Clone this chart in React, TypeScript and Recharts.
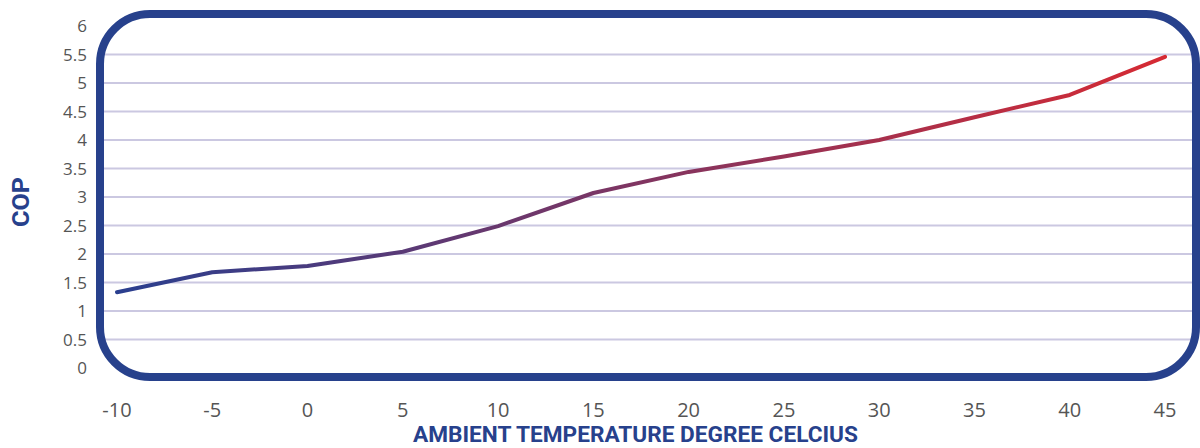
import { LineChart, Line, XAxis, YAxis, CartesianGrid } from 'recharts';

const temperatures = ['-10', '-5', '0', '5', '10', '15', '20', '25', '30', '35', '40', '45'];
const copValues = [1.33, 1.68, 1.79, 2.04, 2.49, 3.07, 3.44, 3.71, 4.0, 4.4, 4.79, 5.46];
const yTicks = [0, 0.5, 1, 1.5, 2, 2.5, 3, 3.5, 4, 4.5, 5, 5.5, 6];
const gridValues = [0.5, 1, 1.5, 2, 2.5, 3, 3.5, 4, 4.5, 5, 5.5];

const data = temperatures.map((t, i) => ({ temp: t, cop: copValues[i] }));

const navy = '#27418c';

export default function App() {
  return (
    <div style={{ position: 'relative', width: 1200, height: 448, background: '#fff' }}>
      <style>{`body{margin:0}`}</style>
      <LineChart
        width={1200}
        height={448}
        data={data}
        margin={{ top: 14, right: 4, left: 0, bottom: 31 }}
      >
        <defs>
          <linearGradient id="copGradient" x1="0" y1="0" x2="1" y2="0">
            <stop offset="0%" stopColor="#2a3f8f" />
            <stop offset="100%" stopColor="#d62a33" />
          </linearGradient>
        </defs>

        {/* Grid, only the inner lines */}
        <CartesianGrid
          vertical={false}
          horizontalValues={gridValues}
          stroke="#cbc8e1"
          strokeWidth={2}
        />

        <XAxis
          dataKey="temp"
          axisLine={false}
          tickLine={false}
          tickSize={0}
          tickMargin={26}
          padding={{ left: 17, right: 31 }}
          height={40}
          interval={0}
          tick={{ fill: '#555', fontSize: 20, fontFamily: '"Open Sans", sans-serif' }}
          label={{
            content: () => (
              <text
                x={413}
                y={442}
                fill={navy}
                fontSize={22}
                fontWeight={700}
                fontFamily="Roboto, sans-serif"
                textLength={445}
                lengthAdjust="spacingAndGlyphs"
              >
                AMBIENT TEMPERATURE DEGREE CELCIUS
              </text>
            ),
          }}
        />

        <YAxis
          domain={[0, 6]}
          ticks={yTicks}
          width={100}
          axisLine={false}
          tickLine={false}
          tickSize={0}
          tickMargin={13}
          padding={{ top: 12, bottom: 9 }}
          interval={0}
          tick={{ fill: '#555', fontSize: 17, fontFamily: '"Open Sans", sans-serif' }}
          label={{
            content: () => (
              <text
                x={29}
                y={227}
                fill={navy}
                fontSize={23}
                fontWeight={700}
                fontFamily="Roboto, sans-serif"
                transform="rotate(-90 29 227)"
                textLength={50}
                lengthAdjust="spacingAndGlyphs"
              >
                COP
              </text>
            ),
          }}
        />

        <Line
          type="linear"
          dataKey="cop"
          stroke="url(#copGradient)"
          strokeWidth={4}
          strokeLinecap="round"
          strokeLinejoin="round"
          dot={false}
          activeDot={false}
          isAnimationActive={false}
        />
      </LineChart>

      {/* Rounded frame round the plot */}
      <div
        style={{
          position: 'absolute',
          left: 96,
          top: 10,
          width: 1104,
          height: 371,
          boxSizing: 'border-box',
          border: `8px solid ${navy}`,
          borderRadius: 54,
          pointerEvents: 'none',
        }}
      />
    </div>
  );
}
